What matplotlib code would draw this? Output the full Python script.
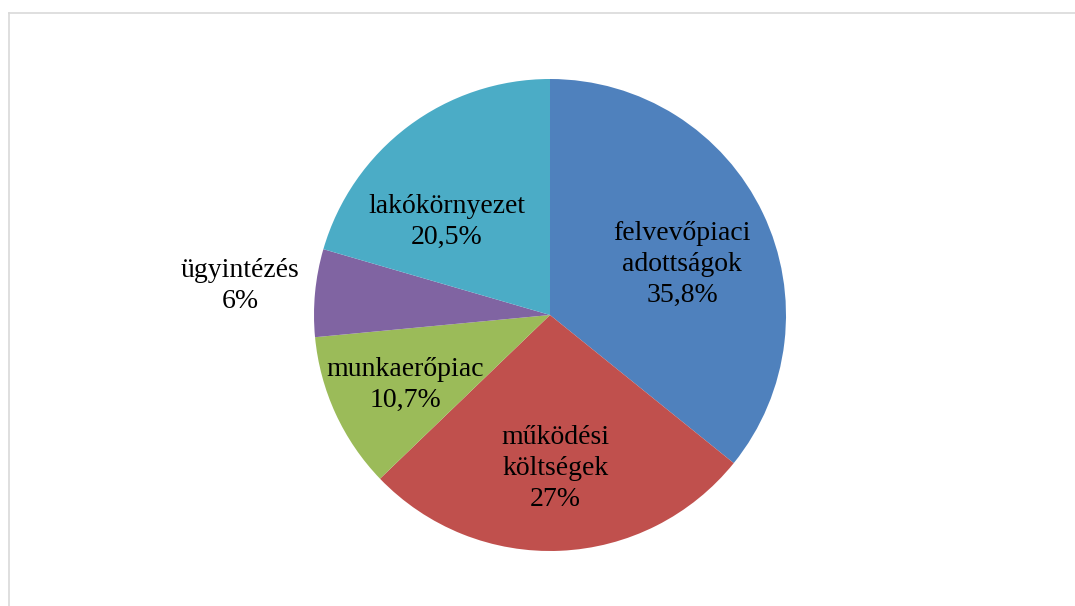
import matplotlib.pyplot as plt
from matplotlib.lines import Line2D
import numpy as np

# Data
categories = ['felvevőpiaci\nadottságok', 'működési\nköltségek', 'munkaerőpiac',
              'ügyintézés', 'lakókörnyezet']
shares = [35.8, 27.0, 10.7, 6.0, 20.5]
colors = ['#4F81BD', '#C0504D', '#9BBB59', '#8064A2', '#4BACC6']

# Label placement (fraction of radius, angular nudge in degrees)
label_dist = [0.60, 0.65, 0.68, 1.32, 0.59]
label_shift = [-4.5, -0.6, 1.1, 0.0, 11.0]

W, H = 1075, 606
fig = plt.figure(figsize=(W / 100, H / 100), dpi=100)
ax = fig.add_axes([0, 0, 1, 1])
ax.set_aspect('equal')

cx, cy, r = 550, H - 315, 236
wedges, _ = ax.pie(shares, colors=colors, startangle=90, counterclock=False,
                   center=(cx, cy), radius=r, frame=True)
ax.set_xlim(0, W)
ax.set_ylim(0, H)
ax.axis('off')


def fmt(v):
    s = ('%.1f' % v).replace('.', ',')
    return s[:-2] + '%' if s.endswith(',0') else s + '%'


for w, cat, v, d, sh in zip(wedges, categories, shares, label_dist, label_shift):
    theta = np.deg2rad((w.theta1 + w.theta2) / 2 + sh)
    x = cx + d * r * np.cos(theta)
    y = cy + d * r * np.sin(theta)
    ax.text(x, y, cat + '\n' + fmt(v), ha='center', va='center',
            fontsize=20, family='Liberation Serif', linespacing=1.32)

# Chart area border (top and left visible)
fig.add_artist(Line2D([8.5 / W, 1], [1 - 12.5 / H, 1 - 12.5 / H],
                      transform=fig.transFigure, color='#D9D9D9', lw=1.2))
fig.add_artist(Line2D([8.5 / W, 8.5 / W], [0, 1 - 12.5 / H],
                      transform=fig.transFigure, color='#D9D9D9', lw=1.2))

fig.savefig('out.png', dpi=100)
